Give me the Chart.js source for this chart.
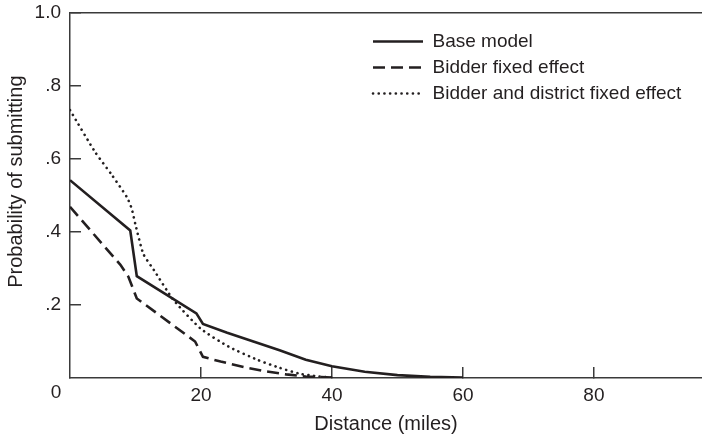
<!DOCTYPE html>
<html lang="en">
<head>
<meta charset="UTF-8">
<title>Probability of submitting</title>
<script src="https://cdn.jsdelivr.net/npm/chart.js"></script>
<style>
  body { margin: 0; background: #fff; }
  canvas { display: block; }
</style>
</head>
<body>
<canvas id="bidChart" width="702" height="439"></canvas>
<script>
// distances (miles) and predicted probabilities
const baseMiles = [0, 9.2, 10.2, 19.3, 20.3, 24, 28, 32, 36, 40, 45, 50, 55, 60];
const baseProb = [0.542, 0.404, 0.279, 0.177, 0.148, 0.124, 0.1, 0.076, 0.05, 0.032, 0.017, 0.008, 0.003, 0.001];

const bidderMiles = [0, 7.7, 8.9, 10.2, 19.1, 20.3, 23, 26.5, 30, 33, 36, 40];
const bidderProb = [0.469, 0.31, 0.278, 0.218, 0.1, 0.058, 0.045, 0.03, 0.018, 0.01, 0.004, 0.001];

const districtMiles = [0, 3.8, 6.4, 8.7, 9.4, 10, 11.2, 12.8, 15.8, 19.9, 24.2, 28.6, 32, 35, 38, 40];
const districtProb = [0.734, 0.62, 0.556, 0.495, 0.465, 0.42, 0.34, 0.296, 0.214, 0.136, 0.086, 0.05, 0.028, 0.012, 0.004, 0.001];

const seriesNames = ['Base model', 'Bidder fixed effect', 'Bidder and district fixed effect'];
const xTickValues = [0, 20, 40, 60, 80];
const yTickValues = [0, 0.2, 0.4, 0.6, 0.8, 1];
const yTickLabels = { 0.2: '.2', 0.4: '.4', 0.6: '.6', 0.8: '.8', 1: '1.0' };

const ink = '#231f20';
const axisInk = '#3a3a3a';
const fontFamily = '"Liberation Sans", Arial, sans-serif';

function toPoints(xs, ys) {
  return xs.map((x, i) => ({ x: x, y: ys[i] }));
}

// the lone "0" sits below-left of the origin, shared by both axes
const originLabel = {
  id: 'originLabel',
  afterDraw(chart) {
    const ctx = chart.ctx;
    const x = chart.scales.x.getPixelForValue(0);
    const y = chart.scales.y.getPixelForValue(0);
    ctx.save();
    ctx.fillStyle = ink;
    ctx.font = '19px ' + fontFamily;
    ctx.textAlign = 'center';
    ctx.textBaseline = 'middle';
    ctx.fillText('0', x - 14, y + 15);
    ctx.restore();
  }
};

// move the legend to the upper right of the plot
const legendPlace = {
  id: 'legendPlace',
  afterLayout(chart) {
    const area = chart.chartArea;
    chart.legend.left = area.left + 296;
    chart.legend.top = area.top + 12;
  }
};

new Chart(document.getElementById('bidChart'), {
  type: 'line',
  data: {
    datasets: [
      {
        label: seriesNames[0],
        data: toPoints(baseMiles, baseProb),
        borderColor: ink,
        borderWidth: 2.6,
        pointRadius: 0,
        tension: 0
      },
      {
        label: seriesNames[1],
        data: toPoints(bidderMiles, bidderProb),
        borderColor: ink,
        borderWidth: 2.6,
        borderDash: [12, 6],
        pointRadius: 0,
        tension: 0
      },
      {
        label: seriesNames[2],
        data: toPoints(districtMiles, districtProb),
        borderColor: ink,
        borderWidth: 2.6,
        borderDash: [0.1, 5.6],
        borderCapStyle: 'round',
        pointRadius: 0,
        tension: 0.2
      }
    ]
  },
  options: {
    responsive: false,
    animation: false,
    layout: { padding: { top: 13, right: 0, left: 0, bottom: 0 } },
    plugins: {
      tooltip: { enabled: false },
      legend: {
        position: 'chartArea',
        align: 'start',
        labels: {
          usePointStyle: true,
          pointStyle: 'line',
          pointStyleWidth: 50,
          padding: 7,
          color: ink,
          font: { family: fontFamily, size: 19 },
          // take the line look from the dataset, not from its (hidden) points
          generateLabels(chart) {
            const items = Chart.defaults.plugins.legend.labels.generateLabels(chart);
            items.forEach(item => {
              const ds = chart.data.datasets[item.datasetIndex];
              item.lineDash = ds.borderDash || [];
              item.lineWidth = ds.borderWidth;
              item.lineCap = ds.borderCapStyle || 'butt';
              item.strokeStyle = ds.borderColor;
              item.fillStyle = 'rgba(0,0,0,0)';
            });
            return items;
          }
        }
      }
    },
    scales: {
      x: {
        type: 'linear',
        min: 0,
        max: 96.5,
        afterFit(scale) { scale.height = 61; },
        afterBuildTicks(scale) { scale.ticks = xTickValues.map(v => ({ value: v })); },
        border: { color: axisInk, width: 1.5 },
        grid: {
          drawOnChartArea: false,
          tickLength: -11,
          lineWidth: 1.5,
          color: axisInk,
          tickColor: ctx => (ctx.tick && ctx.tick.value === 0 ? 'rgba(0,0,0,0)' : axisInk)
        },
        ticks: {
          padding: 17,
          color: ink,
          maxRotation: 0,
          font: { family: fontFamily, size: 19 },
          callback: v => (v === 0 ? '' : String(v))
        },
        title: {
          display: true,
          text: 'Distance (miles)',
          color: ink,
          padding: { top: 0, bottom: 3 },
          font: { family: fontFamily, size: 20 }
        }
      },
      y: {
        min: 0,
        max: 1,
        afterFit(scale) {
          scale.width = 70;
          scale.paddingTop = 0;
          scale.paddingBottom = 0;
        },
        afterBuildTicks(scale) { scale.ticks = yTickValues.map(v => ({ value: v })); },
        border: { color: axisInk, width: 1.5 },
        grid: {
          drawOnChartArea: true,
          tickLength: -11,
          lineWidth: 1.5,
          color: ctx => (ctx.tick && ctx.tick.value === 1 ? axisInk : 'rgba(0,0,0,0)'),
          tickColor: ctx => (ctx.tick && ctx.tick.value === 0 ? 'rgba(0,0,0,0)' : axisInk)
        },
        ticks: {
          padding: 20,
          color: ink,
          font: { family: fontFamily, size: 19 },
          callback: v => yTickLabels[Math.round(v * 10) / 10] || ''
        },
        title: {
          display: true,
          text: '     Probability of submitting',
          color: ink,
          padding: { top: 4, bottom: 0 },
          font: { family: fontFamily, size: 20 }
        }
      }
    }
  },
  plugins: [originLabel, legendPlace]
});
</script>
</body>
</html>
